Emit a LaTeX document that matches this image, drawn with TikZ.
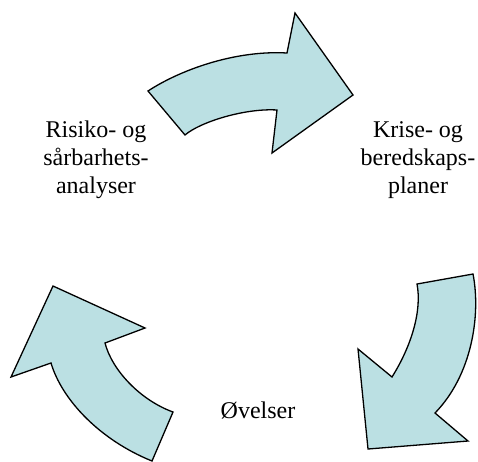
\documentclass[tikz,border=0pt]{standalone}
\usepackage{fontspec}
\setmainfont{Liberation Serif}
\definecolor{arrowfill}{RGB}{187,224,227}

\begin{document}
\begin{tikzpicture}[x=1pt,y=-1pt,line join=miter]
  \tikzstyle{cycle arrow}=[fill=arrowfill,draw=black,line width=1.3pt]
  \tikzstyle{phase}=[align=center,font=\fontsize{24}{28}\selectfont,inner sep=0pt]

  \useasboundingbox (0,0) rectangle (478,461);

  % top arrow
  \draw[cycle arrow] (148,91) .. controls (180,70) and (235,50) .. (287,53)
        -- (295,13) -- (353,95) -- (272,153) -- (277,110)
        .. controls (245,108) and (200,122) .. (185,135) -- cycle;
  % right arrow
  \draw[cycle arrow] (473,274) .. controls (481,315) and (472,375) .. (435,413)
        -- (468,441) -- (368,449) -- (358,349) -- (392,377)
        .. controls (412,345) and (422,310) .. (417,284) -- cycle;
  % left arrow
  \draw[cycle arrow] (152,461) .. controls (100,440) and (62,400) .. (51,363)
        -- (11,377) -- (53,286) -- (145,328) -- (105,343)
        .. controls (112,370) and (140,400) .. (173,412) -- cycle;

  \node[phase] (risiko) at (96,160) {Risiko- og\\sårbarhets-\\analyser};
  \node[phase] (krise)  at (418,160) {Krise- og\\beredskaps-\\planer};
  \node[phase] (ovelser) at (258,410) {Øvelser};
%   \node[phase] (ovelser) [below=of krise] {Øvelser};
\end{tikzpicture}
\end{document}
